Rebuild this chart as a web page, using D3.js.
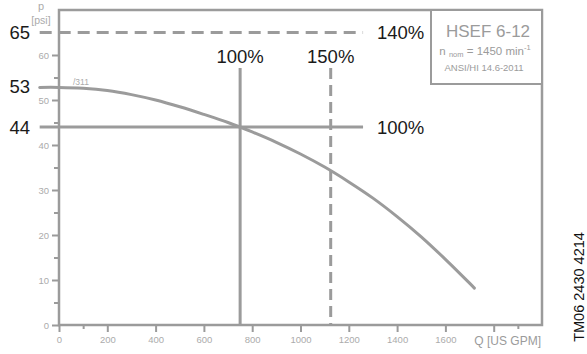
<!DOCTYPE html>
<html><head><meta charset="utf-8">
<script src="https://cdn.jsdelivr.net/npm/d3@7"></script>
<style>body{margin:0;background:#fff}svg{display:block}text{font-family:"Liberation Sans",Arial,sans-serif}</style>
</head><body>
<script>
// Data
const curveQ = [-80, 0, 100, 200, 300, 400, 500, 600, 700, 800, 900, 1000, 1100, 1200, 1300, 1400, 1500, 1600, 1700, 1720];
const curveP = [52.8, 52.8, 52.6, 52.1, 51.2, 50.0, 48.5, 46.8, 45.0, 42.9, 40.6, 38.0, 35.1, 31.8, 28.2, 24.1, 19.6, 14.6, 9.3, 8.2];
const xMajorTicks = [0, 200, 400, 600, 800, 1000, 1200, 1400, 1600, 1800];
const xTickLabels = ["0", "200", "400", "600", "800", "1000", "1200", "1400", "1600", ""];
const xMinorTicks = [100, 1900];
const yMajorTicks = [0, 10, 20, 30, 40, 50, 60];
const yMinorTicks = [5, 15, 25, 35, 45, 55];
const dutyQ = 750, dutyP = 44, maxQ = 1125, maxP = 65, shutoffP = 53;
const refLineStartQ = -80, refLineEndQ = 1259, vertTopP = 57.1;

const W = 587, H = 354;
const svg = d3.select("body").append("svg").attr("width", W).attr("height", H);
const x = d3.scaleLinear().domain([0, 2000]).range([59, 542]);
const y = d3.scaleLinear().domain([0, 70]).range([325, 10]);
const gray = "#9b9b9b", lightText = "#ababab";

// frame
svg.append("rect").attr("x", x(0)).attr("y", y(70)).attr("width", x(2000) - x(0)).attr("height", y(0) - y(70))
  .attr("fill", "none").attr("stroke", gray).attr("stroke-width", 2.5);

// legend box
svg.append("rect").attr("x", 431).attr("y", y(70)).attr("width", x(2000) - 431).attr("height", 74)
  .attr("fill", "#fff").attr("stroke", gray).attr("stroke-width", 2);

// axes
const xAxis = d3.axisBottom(x).tickValues(xMajorTicks).tickSize(7).tickFormat((d, i) => xTickLabels[i]);
const gx = svg.append("g").attr("transform", `translate(0,${y(0)})`).call(xAxis);
const xMin = d3.axisBottom(x).tickValues(xMinorTicks).tickSize(4).tickFormat("");
const gx2 = svg.append("g").attr("transform", `translate(0,${y(0)})`).call(xMin);
const yAxis = d3.axisLeft(y).tickValues(yMajorTicks).tickSize(7).tickFormat(d3.format("d"));
const gy = svg.append("g").attr("transform", `translate(${x(0)},0)`).call(yAxis);
const yMin = d3.axisLeft(y).tickValues(yMinorTicks).tickSize(5).tickFormat("");
const gy2 = svg.append("g").attr("transform", `translate(${x(0)},0)`).call(yMin);
[gx, gx2, gy, gy2].forEach(g => {
  g.select(".domain").remove();
  g.selectAll("line").attr("stroke", gray).attr("stroke-width", 2);
  g.selectAll("text").attr("fill", lightText).attr("font-size", 9.5).attr("font-family", '"Liberation Sans",Arial,sans-serif');
});
gx.selectAll("text").attr("dy", "1.1em").attr("y", 8);
gy.selectAll("text").attr("x", -10);

// reference lines
const lineStyle = sel => sel.attr("stroke", gray).attr("stroke-width", 3).attr("fill", "none");
svg.append("line").attr("x1", x(refLineStartQ)).attr("x2", x(refLineEndQ)).attr("y1", y(maxP)).attr("y2", y(maxP))
  .call(lineStyle).attr("stroke-dasharray", "12,7");
svg.append("line").attr("x1", x(refLineStartQ)).attr("x2", x(refLineEndQ)).attr("y1", y(dutyP)).attr("y2", y(dutyP))
  .call(lineStyle);
svg.append("line").attr("x1", x(dutyQ)).attr("x2", x(dutyQ)).attr("y1", y(vertTopP)).attr("y2", y(0))
  .call(lineStyle);
svg.append("line").attr("x1", x(maxQ)).attr("x2", x(maxQ)).attr("y1", y(vertTopP)).attr("y2", y(0))
  .call(lineStyle).attr("stroke-dasharray", "11,6");

// curve
const pts = curveQ.map((q, i) => [q, curveP[i]]);
svg.append("path").datum(pts)
  .attr("d", d3.line().x(d => x(d[0])).y(d => y(d[1])).curve(d3.curveCatmullRom.alpha(0.5)))
  .call(lineStyle).attr("stroke-linecap", "round");

// big labels
const big = (t, xx, yy, anchor) => svg.append("text").text(t).attr("x", xx).attr("y", yy)
  .attr("font-size", 18.5).attr("fill", "#1a1a1a").attr("text-anchor", anchor || "start");
big(String(maxP), 30, y(maxP) + 6.5, "end");
big(String(shutoffP), 30, y(shutoffP) + 6.5, "end");
big(String(dutyP), 30, y(dutyP) + 6.5, "end");
big("140%", 377, y(maxP) + 6.5);
big("100%", 377, y(dutyP) + 6.5);
big("100%", x(dutyQ), 63, "middle");
big("150%", x(maxQ), 63, "middle");

// axis titles
svg.append("text").text("p").attr("x", 41).attr("y", 10).attr("text-anchor", "middle").attr("font-size", 11).attr("fill", lightText);
svg.append("text").text("[psi]").attr("x", 41).attr("y", 24).attr("text-anchor", "middle").attr("font-size", 10.5).attr("fill", lightText);
svg.append("text").text("Q [US GPM]").attr("x", 541).attr("y", 345).attr("text-anchor", "end").attr("font-size", 12).attr("fill", gray);
svg.append("text").text("/311").attr("x", 73).attr("y", 85).attr("font-size", 8.5).attr("fill", lightText);

// legend text
svg.append("text").text("HSEF 6-12").attr("x", 488).attr("y", 37).attr("text-anchor", "middle").attr("font-size", 17).attr("fill", gray);
const t2 = svg.append("text").attr("x", 485).attr("y", 55).attr("text-anchor", "middle").attr("font-size", 11.5).attr("fill", gray);
t2.append("tspan").text("n ");
t2.append("tspan").text("nom").attr("font-size", 7.5).attr("dy", 2);
t2.append("tspan").text(" = 1450 min").attr("dy", -2);
t2.append("tspan").text("-1").attr("font-size", 7.5).attr("dy", -5);
svg.append("text").text("ANSI/HI 14.6-2011").attr("x", 484).attr("y", 71).attr("text-anchor", "middle").attr("font-size", 9.5).attr("fill", gray);

// side code
svg.append("text").text("TM06 2430 4214").attr("transform", "translate(584,287) rotate(-90)")
  .attr("text-anchor", "middle").attr("font-size", 14.5).attr("fill", "#111");
</script>
</body></html>
